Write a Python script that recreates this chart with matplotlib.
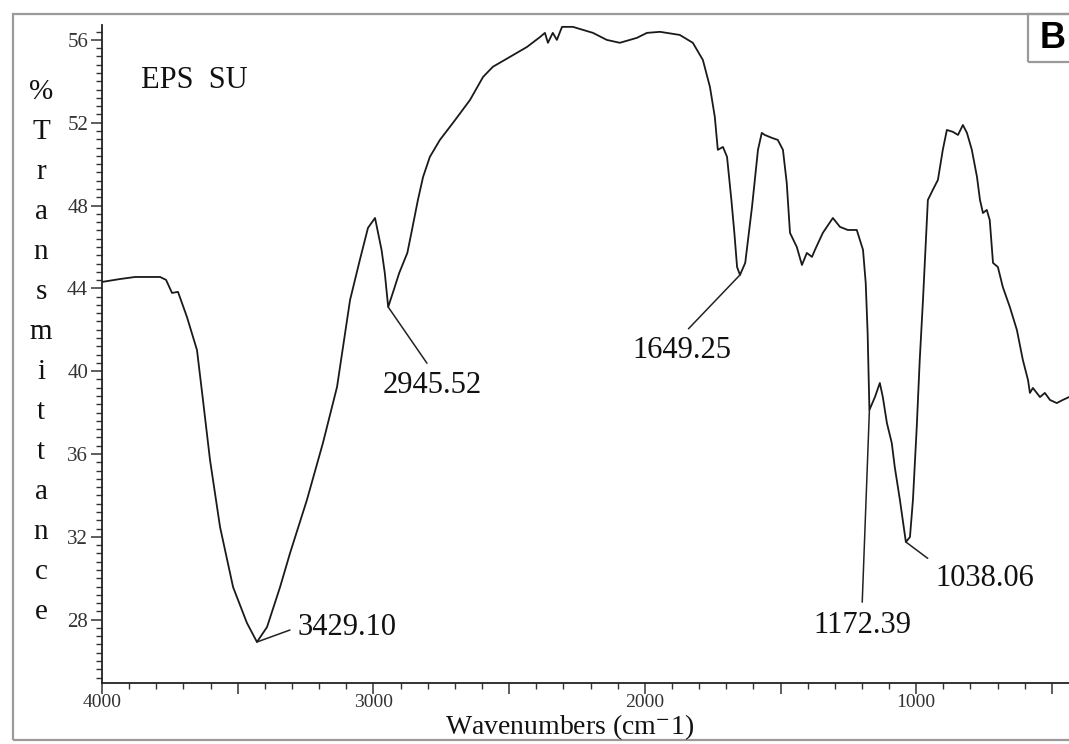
import matplotlib
matplotlib.use("Agg")
import matplotlib.pyplot as plt
from matplotlib.ticker import MultipleLocator, FuncFormatter
from matplotlib.patches import Rectangle

# FT-IR spectrum (wavenumber cm-1, %T)
wavenumber = [
    4000, 3934, 3878, 3786, 3764, 3742, 3720, 3687, 3650, 3628, 3602, 3565,
    3517, 3466, 3429.1, 3392, 3344, 3307, 3245, 3186, 3134, 3086, 3050, 3020,
    2994, 2970, 2958, 2945.5, 2925, 2905, 2875, 2860, 2836, 2817, 2792, 2755,
    2707, 2644, 2596, 2560, 2497, 2434, 2386, 2368, 2357, 2339, 2324, 2305,
    2265, 2191, 2140, 2092, 2029, 1992, 1944, 1871, 1823, 1786, 1760, 1742,
    1731, 1712, 1697, 1681, 1670, 1660, 1649.25, 1630, 1605, 1583, 1569, 1558,
    1532, 1510, 1491, 1477, 1465, 1440, 1421, 1403, 1384, 1373, 1344, 1307,
    1281, 1252, 1219, 1196, 1186, 1179, 1175, 1172.39, 1152, 1134, 1123, 1108,
    1090, 1079, 1060, 1038.06, 1023, 1012, 998, 987, 975, 957, 939, 920,
    902, 887, 865, 846, 828, 813, 795, 776, 765, 754, 740, 729,
    717, 699, 681, 655, 629, 607, 588, 581, 570, 544, 526, 507,
    482, 460, 437,
]
transmittance = [
    44.31, 44.45, 44.55, 44.55, 44.41, 43.78, 43.83, 42.62, 41.02, 38.61, 35.71, 32.47,
    29.57, 27.84, 26.92, 27.64, 29.57, 31.22, 33.78, 36.53, 39.24, 43.44, 45.37, 46.92,
    47.40, 45.86, 44.74, 43.10, 43.92, 44.74, 45.71, 46.68, 48.27, 49.38, 50.35, 51.17,
    51.99, 53.10, 54.21, 54.70, 55.18, 55.66, 56.14, 56.34, 55.86, 56.34, 56.00, 56.63,
    56.63, 56.34, 56.00, 55.86, 56.10, 56.34, 56.39, 56.24, 55.86, 55.03, 53.73, 52.28,
    50.69, 50.83, 50.35, 48.27, 46.68, 45.03, 44.65, 45.23, 47.93, 50.69, 51.51, 51.41,
    51.27, 51.17, 50.69, 49.09, 46.68, 46.00, 45.13, 45.71, 45.52, 45.86, 46.68, 47.40,
    46.97, 46.82, 46.82, 45.86, 44.26, 41.85, 39.57, 38.13, 38.75, 39.43, 38.75, 37.50,
    36.53, 35.37, 33.78, 31.75, 31.99, 33.78, 37.30, 40.54, 43.44, 48.27, 48.75, 49.24,
    50.69, 51.65, 51.56, 51.41, 51.89, 51.51, 50.69, 49.38, 48.27, 47.64, 47.79, 47.30,
    45.23, 45.03, 44.07, 43.10, 41.99, 40.54, 39.57, 38.95, 39.19, 38.75, 38.95, 38.61,
    38.46, 38.61, 38.75,
]

# labelled peaks and where their labels sit
peak_labels = ["3429.10", "2945.52", "1649.25", "1172.39", "1038.06"]
peak_wn = [3429.1, 2945.5, 1649.25, 1172.39, 1038.06]
peak_t = [26.92, 43.10, 44.65, 38.13, 31.75]
label_wn = [3278, 2784, 1863, 1200, 931]
label_t = [27.64, 39.33, 41.02, 27.74, 30.0]

plt.rcParams['font.family'] = ['Liberation Serif', 'DejaVu Serif']
plt.rcParams['mathtext.fontset'] = 'stix'

W, H = 1069, 744
fig = plt.figure(figsize=(W / 100, H / 100), dpi=100)
ax = fig.add_axes([102 / W, 1 - 683 / H, 1 - 102 / W, (683 - 25) / H])

ax.plot(wavenumber, transmittance, color='#1a1a1a', lw=1.3)
ax.set_xlim(4000, 437)
ax.set_ylim(24.94, 56.72)

for s in ['top', 'right']:
    ax.spines[s].set_visible(False)
for s in ['left', 'bottom']:
    ax.spines[s].set_color('#222222')
    ax.spines[s].set_linewidth(1.3)

ax.xaxis.set_major_locator(MultipleLocator(500))
ax.xaxis.set_minor_locator(MultipleLocator(100))
ax.xaxis.set_major_formatter(FuncFormatter(lambda v, p: f"{int(v)}" if v % 1000 == 0 else ""))
ax.yaxis.set_major_locator(MultipleLocator(4))
ax.yaxis.set_minor_locator(MultipleLocator(0.4))
ax.tick_params(axis='both', which='major', length=8, width=1.1, colors='#333333',
               labelsize=15, pad=2)
ax.tick_params(axis='x', which='major', pad=0, labelsize=14)
ax.tick_params(axis='both', which='minor', length=4, width=1.0, colors='#333333')

# peak annotations
relpos = [(0, 0.5), (0.5, 1), (0.5, 1), (0.5, 1), (0, 1)]
for lab, x, y, tx, ty, rp in zip(peak_labels, peak_wn, peak_t, label_wn, label_t, relpos):
    ha = 'left' if rp[0] == 0 else 'center'
    ax.annotate(lab, xy=(x, y), xytext=(tx, ty), textcoords='data',
                ha=ha, va='center', fontsize=22, color='#111111',
                arrowprops=dict(arrowstyle='-', color='#222222', lw=1.1,
                                shrinkA=4, shrinkB=0, relpos=rp))

ax.text(0.04, 0.915, "EPS  SU", transform=ax.transAxes,
        fontsize=22, ha='left', va='center', color='#111111')

# axis titles
fig.text(570 / W, 1 - 727 / H, "Wavenumbers (cm$^{-}$1)", ha='center', va='center',
         fontsize=20, color='#111111')
fig.text(41 / W, 1 - 352 / H, "\n".join("%Transmittance"), ha='center', va='center',
         fontsize=21, linespacing=1.70, color='#111111')

# outer frame and panel letter
fig.add_artist(Rectangle((13 / W, 4 / H), 1.2, (H - 18) / H, transform=fig.transFigure,
                         fill=False, ec='#9a9a9a', lw=1.6))
fig.add_artist(Rectangle((1028 / W, 1 - 62 / H), 0.2, 48 / H, transform=fig.transFigure,
                         fill=False, ec='#9a9a9a', lw=1.6))
fig.text(1053 / W, 1 - 39 / H, "B", ha='center', va='center', fontsize=26,
         fontweight='bold', family='Liberation Sans')

fig.savefig("out.png", dpi=100)
